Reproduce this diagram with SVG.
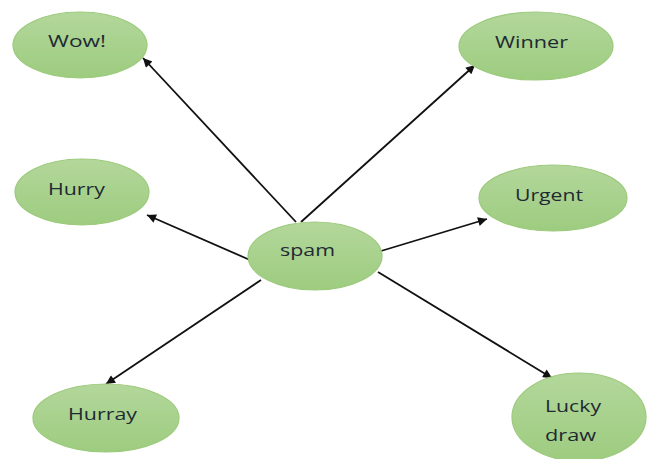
<svg xmlns="http://www.w3.org/2000/svg" width="651" height="459" viewBox="0 0 651 459">
<style>
.node{fill:url(#g);stroke:#9cca7c;stroke-width:1.2}
.lbl{font-family:"Open Sans","Liberation Sans",sans-serif;font-size:17px;fill:#1e2a33}
.edge{stroke:#111;stroke-width:1.8;fill:none;marker-end:url(#ah)}
</style>
<defs>
<linearGradient id="g" x1="0" y1="0" x2="0" y2="1">
<stop offset="0" stop-color="#b3d79b"/>
<stop offset="1" stop-color="#9dcc7f"/>
</linearGradient>
<marker id="ah" viewBox="0 0 10 10" refX="10" refY="5" markerWidth="6" markerHeight="5" markerUnits="strokeWidth" orient="auto">
<path d="M0,0 L10,5 L0,10 z" fill="#111"/>
</marker>
</defs>
<rect width="651" height="459" fill="#fff"/>
<g id="connectors">
<line class="edge" x1="296" y1="222" x2="143" y2="58"/>
<line class="edge" x1="301" y1="222" x2="475" y2="65"/>
<line class="edge" x1="250" y1="260" x2="147" y2="215"/>
<line class="edge" x1="381" y1="251" x2="487" y2="219"/>
<line class="edge" x1="261" y1="280" x2="106" y2="384"/>
<line class="edge" x1="378" y1="272" x2="552" y2="378"/>
</g>
<g id="wow">
<ellipse class="node" cx="80" cy="45" rx="67" ry="33"/>
<text class="lbl" x="48" y="47" textLength="58" lengthAdjust="spacingAndGlyphs">Wow!</text>
</g>
<g id="winner">
<ellipse class="node" cx="536" cy="46" rx="77" ry="34"/>
<text class="lbl" x="495" y="48" textLength="73" lengthAdjust="spacingAndGlyphs">Winner</text>
</g>
<g id="hurry">
<ellipse class="node" cx="82" cy="192" rx="67" ry="33"/>
<text class="lbl" x="48" y="195" textLength="57" lengthAdjust="spacingAndGlyphs">Hurry</text>
</g>
<g id="urgent">
<ellipse class="node" cx="553" cy="198" rx="74" ry="33"/>
<text class="lbl" x="515" y="201" textLength="68" lengthAdjust="spacingAndGlyphs">Urgent</text>
</g>
<g id="spam">
<ellipse class="node" cx="315" cy="256" rx="67" ry="34"/>
<text class="lbl" x="280" y="256" textLength="55" lengthAdjust="spacingAndGlyphs">spam</text>
</g>
<g id="hurray">
<ellipse class="node" cx="106" cy="418" rx="73" ry="34"/>
<text class="lbl" x="68" y="420" textLength="69" lengthAdjust="spacingAndGlyphs">Hurray</text>
</g>
<g id="lucky">
<ellipse class="node" cx="579" cy="417" rx="67" ry="44"/>
<text class="lbl" x="545" y="412" textLength="56" lengthAdjust="spacingAndGlyphs">Lucky</text>
<text class="lbl" x="545" y="441" textLength="51" lengthAdjust="spacingAndGlyphs">draw</text>
</g>
</svg>
